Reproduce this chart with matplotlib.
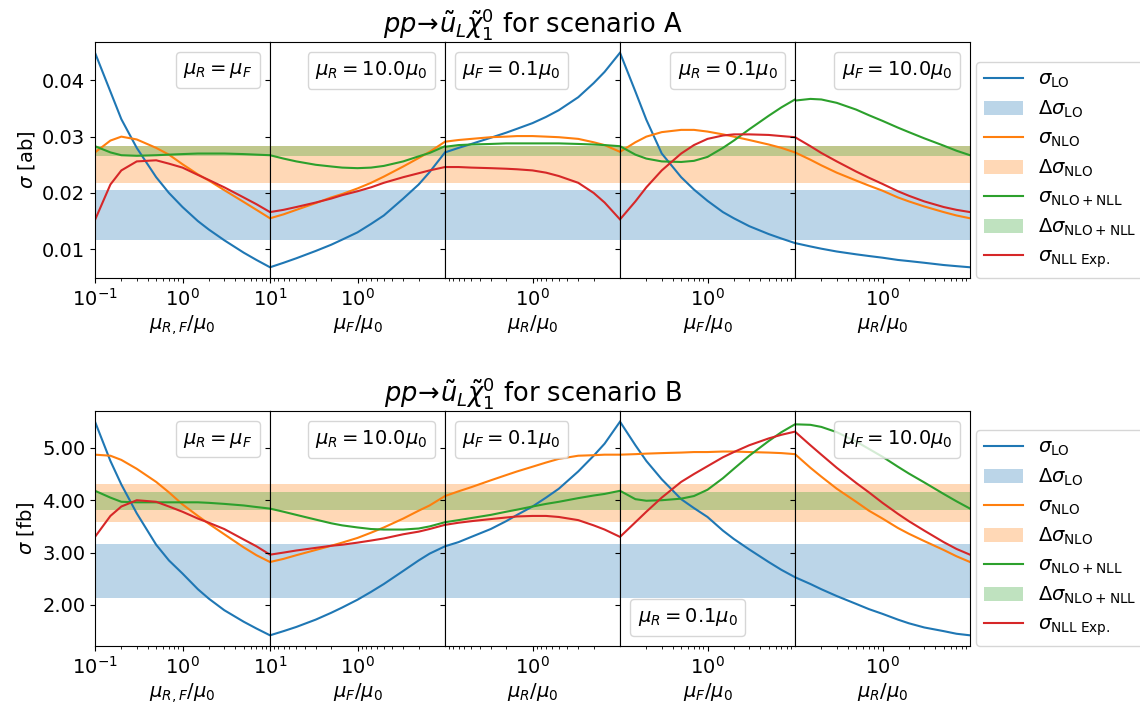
import matplotlib
matplotlib.use("Agg")
import matplotlib.pyplot as plt
from matplotlib.ticker import FixedLocator, LogLocator, FormatStrFormatter, NullFormatter, LogFormatterSciNotation
from matplotlib.offsetbox import AnchoredText
from matplotlib.lines import Line2D
from matplotlib.patches import Patch

# ---------------- data ----------------
mu_up = [0.1, 0.15, 0.2, 0.3, 0.5, 0.7, 1, 1.5, 2, 3, 5, 7, 10]      # ascending
mu_dn = [10, 7, 5, 3, 2, 1.5, 1, 0.7, 0.5, 0.3, 0.2, 0.15, 0.1]      # descending (reversed panels)

panel_x = [mu_up, mu_dn, mu_dn, mu_up, mu_up]
panel_xlim = [(0.1, 10), (10, 0.1), (10, 0.1), (0.1, 10), (0.1, 10)]
panel_xlabels = [r'$\mu_{R,F}/\mu_0$', r'$\mu_F/\mu_0$', r'$\mu_R/\mu_0$',
                 r'$\mu_F/\mu_0$', r'$\mu_R/\mu_0$']
panel_tags = [r'$\mu_R = \mu_F$', r'$\mu_R = 10.0\mu_0$', r'$\mu_F = 0.1\mu_0$',
              r'$\mu_R = 0.1\mu_0$', r'$\mu_F = 10.0\mu_0$']
tag_loc_A = ['upper right', 'upper right', 'upper left', 'upper right', 'upper right']
tag_loc_B = ['upper right', 'upper right', 'upper left', 'lower left', 'upper right']

# Scenario A  [ab]  (each list follows the x order of its panel)
A_LO = [
    [0.0449, 0.0380, 0.0331, 0.0280, 0.0228, 0.0200, 0.0175, 0.0150, 0.0135, 0.0116, 0.0094, 0.0081, 0.0068],
    [0.0068, 0.0076, 0.0084, 0.0097, 0.0108, 0.0117, 0.0130, 0.0145, 0.0160, 0.0190, 0.0215, 0.0237, 0.0272],
    [0.0272, 0.0280, 0.0287, 0.0298, 0.0307, 0.0314, 0.0324, 0.0335, 0.0347, 0.0370, 0.0395, 0.0415, 0.0449],
    [0.0449, 0.0380, 0.0330, 0.0270, 0.0228, 0.0206, 0.0186, 0.0166, 0.0155, 0.0141, 0.0127, 0.0119, 0.0111],
    [0.0111, 0.0105, 0.0101, 0.0096, 0.0091, 0.0088, 0.0085, 0.0081, 0.0079, 0.0076, 0.0072, 0.0070, 0.0068],
]
A_NLO = [
    [0.0272, 0.0293, 0.0300, 0.0295, 0.0280, 0.0268, 0.0251, 0.0233, 0.0222, 0.0205, 0.0184, 0.0170, 0.0155],
    [0.0155, 0.0162, 0.0170, 0.0182, 0.0192, 0.0198, 0.0208, 0.0218, 0.0229, 0.0247, 0.0262, 0.0273, 0.0291],
    [0.0291, 0.0294, 0.0296, 0.0299, 0.0300, 0.0301, 0.0301, 0.0300, 0.0299, 0.0296, 0.0290, 0.0285, 0.0273],
    [0.0273, 0.0290, 0.0300, 0.0308, 0.0312, 0.0312, 0.0309, 0.0304, 0.0300, 0.0294, 0.0286, 0.0280, 0.0272],
    [0.0272, 0.0259, 0.0249, 0.0236, 0.0222, 0.0213, 0.0204, 0.0192, 0.0185, 0.0176, 0.0166, 0.0160, 0.0155],
]
A_NLL = [
    [0.0283, 0.0272, 0.0267, 0.0266, 0.0267, 0.0268, 0.0269, 0.0270, 0.0270, 0.0270, 0.0269, 0.0268, 0.0267],
    [0.0267, 0.0261, 0.0256, 0.0250, 0.0247, 0.0245, 0.0244, 0.0245, 0.0248, 0.0256, 0.0265, 0.0271, 0.0283],
    [0.0282, 0.0285, 0.0286, 0.0287, 0.0288, 0.0288, 0.0288, 0.0288, 0.0288, 0.0287, 0.0286, 0.0285, 0.0283],
    [0.0283, 0.0268, 0.0261, 0.0256, 0.0255, 0.0257, 0.0264, 0.0280, 0.0293, 0.0313, 0.0337, 0.0352, 0.0366],
    [0.0364, 0.0367, 0.0366, 0.0360, 0.0348, 0.0338, 0.0328, 0.0316, 0.0308, 0.0297, 0.0284, 0.0275, 0.0267],
]
A_EXP = [
    [0.0152, 0.0215, 0.0240, 0.0256, 0.0258, 0.0252, 0.0245, 0.0232, 0.0223, 0.0210, 0.0192, 0.0180, 0.0166],
    [0.0166, 0.0170, 0.0175, 0.0183, 0.0190, 0.0196, 0.0203, 0.0210, 0.0218, 0.0228, 0.0235, 0.0240, 0.0246],
    [0.0246, 0.0246, 0.0245, 0.0244, 0.0243, 0.0242, 0.0240, 0.0236, 0.0230, 0.0218, 0.0200, 0.0183, 0.0153],
    [0.0153, 0.0185, 0.0210, 0.0240, 0.0270, 0.0285, 0.0296, 0.0302, 0.0304, 0.0304, 0.0303, 0.0301, 0.0299],
    [0.0299, 0.0283, 0.0271, 0.0256, 0.0238, 0.0227, 0.0216, 0.0203, 0.0195, 0.0185, 0.0175, 0.0170, 0.0166],
]
A_band_LO = (0.01165, 0.02048)
A_band_NLO = (0.02172, 0.02830)
A_band_NLL = (0.02650, 0.02828)

# Scenario B  [fb]
B_LO = [
    [5.50, 4.75, 4.30, 3.75, 3.15, 2.85, 2.60, 2.30, 2.12, 1.90, 1.68, 1.55, 1.42],
    [1.42, 1.50, 1.58, 1.72, 1.85, 1.95, 2.10, 2.25, 2.40, 2.65, 2.85, 2.98, 3.12],
    [3.12, 3.20, 3.30, 3.45, 3.60, 3.72, 3.88, 4.05, 4.22, 4.55, 4.85, 5.08, 5.50],
    [5.50, 5.05, 4.75, 4.40, 4.02, 3.85, 3.68, 3.42, 3.26, 3.06, 2.82, 2.67, 2.53],
    [2.53, 2.40, 2.30, 2.17, 2.02, 1.92, 1.83, 1.72, 1.65, 1.57, 1.50, 1.45, 1.42],
]
B_NLO = [
    [4.87, 4.85, 4.77, 4.60, 4.35, 4.15, 3.92, 3.70, 3.55, 3.35, 3.10, 2.95, 2.82],
    [2.82, 2.88, 2.95, 3.05, 3.13, 3.19, 3.28, 3.38, 3.48, 3.65, 3.80, 3.90, 4.08],
    [4.08, 4.17, 4.25, 4.38, 4.48, 4.55, 4.64, 4.72, 4.79, 4.85, 4.86, 4.87, 4.87],
    [4.87, 4.88, 4.89, 4.90, 4.91, 4.92, 4.92, 4.93, 4.93, 4.92, 4.91, 4.90, 4.88],
    [4.88, 4.62, 4.45, 4.22, 3.97, 3.80, 3.65, 3.47, 3.36, 3.22, 3.05, 2.93, 2.82],
]
B_NLL = [
    [4.18, 4.05, 3.97, 3.96, 3.96, 3.96, 3.96, 3.96, 3.95, 3.93, 3.90, 3.87, 3.84],
    [3.84, 3.78, 3.72, 3.63, 3.56, 3.52, 3.48, 3.45, 3.44, 3.44, 3.46, 3.50, 3.58],
    [3.58, 3.62, 3.66, 3.72, 3.78, 3.82, 3.88, 3.93, 3.97, 4.04, 4.09, 4.12, 4.18],
    [4.18, 4.02, 3.99, 4.00, 4.03, 4.08, 4.20, 4.42, 4.60, 4.85, 5.13, 5.30, 5.45],
    [5.45, 5.44, 5.40, 5.30, 5.12, 4.98, 4.83, 4.64, 4.51, 4.34, 4.12, 3.98, 3.84],
]
B_EXP = [
    [3.30, 3.70, 3.88, 4.00, 3.97, 3.88, 3.78, 3.65, 3.57, 3.45, 3.25, 3.12, 2.96],
    [2.96, 3.00, 3.04, 3.09, 3.13, 3.15, 3.19, 3.23, 3.27, 3.35, 3.40, 3.45, 3.53],
    [3.53, 3.57, 3.60, 3.64, 3.67, 3.69, 3.70, 3.70, 3.68, 3.62, 3.52, 3.44, 3.30],
    [3.30, 3.58, 3.78, 4.05, 4.35, 4.50, 4.65, 4.82, 4.92, 5.05, 5.18, 5.25, 5.31],
    [5.31, 5.05, 4.87, 4.62, 4.33, 4.15, 3.95, 3.74, 3.60, 3.42, 3.20, 3.07, 2.96],
]
B_band_LO = (2.127, 3.157)
B_band_NLO = (3.583, 4.317)
B_band_NLL = (3.816, 4.152)

# ---------------- style ----------------
FS = 14
plt.rcParams['font.size'] = FS
plt.rcParams['mathtext.fontset'] = 'dejavusans'

C_LO, C_NLO, C_NLL, C_EXP = 'C0', 'C1', 'C2', 'C3'

fig = plt.figure(figsize=(11.4, 7.04), dpi=100)
W, H = 1140.0, 704.0


def make_row(top_px, bot_px, LO, NLO, NLL, EXP, bLO, bNLO, bNLL, ylabel, title, tag_locs):
    axes = []
    for k in range(5):
        left = (95 + 175 * k) / W
        ax = fig.add_axes([left, 1 - bot_px / H, 175 / W, (bot_px - top_px) / H],
                          sharey=axes[0] if axes else None)
        axes.append(ax)
        ax.set_xscale('log')
        ax.axhspan(*bLO, color=C_LO, alpha=0.3, lw=0)
        ax.axhspan(*bNLO, color=C_NLO, alpha=0.3, lw=0)
        ax.axhspan(*bNLL, color=C_NLL, alpha=0.3, lw=0)
        x = panel_x[k]
        ax.plot(x, LO[k], color=C_LO, lw=1.5)
        ax.plot(x, NLO[k], color=C_NLO, lw=1.5)
        ax.plot(x, NLL[k], color=C_NLL, lw=1.5)
        ax.plot(x, EXP[k], color=C_EXP, lw=1.5)
        ax.set_xlim(*panel_xlim[k])
        ax.set_xlabel(panel_xlabels[k], fontsize=FS, labelpad=2.5)
        ax.xaxis.set_minor_locator(LogLocator(base=10, subs=range(2, 10), numticks=20))
        ax.xaxis.set_minor_formatter(NullFormatter())
        if k > 0:
            ax.xaxis.set_major_locator(FixedLocator([1.0]))
            ax.xaxis.set_major_formatter(LogFormatterSciNotation())
            ax.tick_params(axis='y', labelleft=False)
        ax.tick_params(labelsize=FS)
        at = AnchoredText(panel_tags[k], loc=tag_locs[k], prop=dict(size=FS),
                          frameon=True, pad=0.4, borderpad=0.5)
        at.patch.set_boxstyle('round,pad=0,rounding_size=0.2')
        at.patch.set_edgecolor((0.8, 0.8, 0.8, 0.8))
        at.patch.set_facecolor((1, 1, 1, 0.8))
        ax.add_artist(at)
    axes[0].set_ylabel(ylabel, fontsize=FS)
    axes[0].yaxis.set_major_formatter(FormatStrFormatter('%.2f'))
    axes[2].set_title(title, fontsize=18.5, pad=5)
    handles = [
        Line2D([], [], color=C_LO, lw=1.5),
        Patch(facecolor=C_LO, alpha=0.3, lw=0),
        Line2D([], [], color=C_NLO, lw=1.5),
        Patch(facecolor=C_NLO, alpha=0.3, lw=0),
        Line2D([], [], color=C_NLL, lw=1.5),
        Patch(facecolor=C_NLL, alpha=0.3, lw=0),
        Line2D([], [], color=C_EXP, lw=1.5),
    ]
    labels = [r'$\sigma_{\mathrm{LO}}$', r'$\Delta\sigma_{\mathrm{LO}}$',
              r'$\sigma_{\mathrm{NLO}}$', r'$\Delta\sigma_{\mathrm{NLO}}$',
              r'$\sigma_{\mathrm{NLO+NLL}}$', r'$\Delta\sigma_{\mathrm{NLO+NLL}}$',
              r'$\sigma_{\mathrm{NLL\ Exp.}}$']
    axes[4].legend(handles, labels, loc='lower left', bbox_to_anchor=(1.034, 0.0),
                   borderaxespad=0, fontsize=FS, frameon=True, labelspacing=0.45)
    return axes


make_row(42, 278, A_LO, A_NLO, A_NLL, A_EXP, A_band_LO, A_band_NLO, A_band_NLL,
         r'$\sigma$ [ab]', r'$pp\!\to\!\tilde{u}_L\tilde{\chi}_1^0$ for scenario A', tag_loc_A)
make_row(411, 646, B_LO, B_NLO, B_NLL, B_EXP, B_band_LO, B_band_NLO, B_band_NLL,
         r'$\sigma$ [fb]', r'$pp\!\to\!\tilde{u}_L\tilde{\chi}_1^0$ for scenario B', tag_loc_B)

fig.savefig('out.png', dpi=100)
